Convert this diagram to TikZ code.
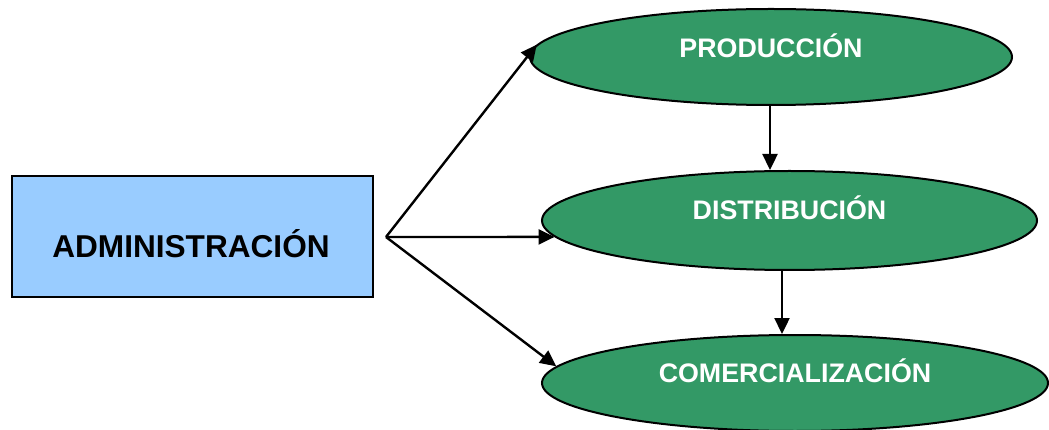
\documentclass[tikz,border=0pt]{standalone}
\usepackage{fontspec}
\setmainfont{Liberation Sans}
\usetikzlibrary{shapes.geometric,arrows.meta}
\definecolor{boxblue}{HTML}{99CCFF}
\definecolor{ellgreen}{HTML}{339966}
\tikzset{
  adminbox/.style={draw=black, line width=1.5pt, fill=boxblue, minimum width=361pt, minimum height=121pt, inner sep=0pt},
  ell/.style={ellipse, draw=black, line width=2pt, fill=ellgreen, inner sep=0pt},
  lbl/.style={text=white, font=\fontsize{26.8pt}{30pt}\bfseries},
  arr/.style={line width=2.4pt, -{Triangle[length=16pt,width=15pt]}}
}
\begin{document}
\begin{tikzpicture}[x=1pt,y=1pt]
\useasboundingbox (0,0) rectangle (1049,-430);
\node[adminbox] (a) at (192.5,-236.5) {};
\node[font=\fontsize{31.6pt}{34pt}\bfseries] (at) at (191,-244) {ADMINISTRACIÓN};
\node[ell, minimum width=482pt, minimum height=96pt,
      label={[lbl,yshift=11pt]center:PRODUCCIÓN}] (p) at (771,-57) {};
\node[ell, minimum width=495pt, minimum height=99pt,
      label={[lbl,yshift=13pt]center:DISTRIBUCIÓN}] (d) at (789.5,-220.5) {};
\node[ell, minimum width=506pt, minimum height=96pt,
      label={[lbl,yshift=12pt]center:COMERCIALIZACIÓN}] (c) at (795,-383) {};
\coordinate (s) at (386,-237);
\draw[arr] (s) -- (p.177);
\draw[arr] (s) -- (d.184);
\draw[arr] (s) -- (c.176);
\draw[arr] ([xshift=-1pt]p.south) -- ([xshift=-1pt]p.south |- d.north);
\draw[arr] ([xshift=-7.5pt]d.south) -- ([xshift=-7.5pt]d.south |- c.north);
\end{tikzpicture}
\end{document}
